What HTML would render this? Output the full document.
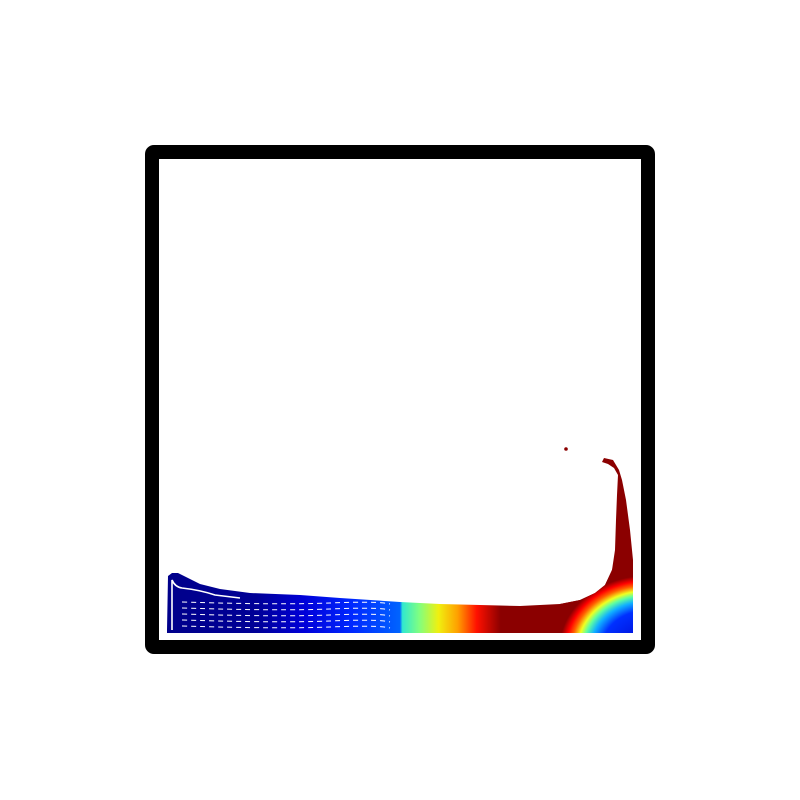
<!DOCTYPE html>
<html><head><meta charset="utf-8"><style>
html,body{margin:0;padding:0;background:#fff;}
svg{display:block;}
</style></head><body>
<svg id="c" width="800" height="800" viewBox="0 0 800 800">
<defs>
<linearGradient id="jetx" gradientUnits="userSpaceOnUse" x1="160" y1="0" x2="640" y2="0">
<stop offset="0" stop-color="#00008a"/>
<stop offset="0.2" stop-color="#000096"/>
<stop offset="0.3" stop-color="#0000d8"/>
<stop offset="0.4" stop-color="#0028ff"/>
<stop offset="0.5" stop-color="#0064ff"/>
<stop offset="0.505" stop-color="#30e8d0"/>
<stop offset="0.54" stop-color="#80ff80"/>
<stop offset="0.58" stop-color="#f0f010"/>
<stop offset="0.62" stop-color="#ffa000"/>
<stop offset="0.66" stop-color="#ff1000"/>
<stop offset="0.71" stop-color="#8b0000"/>
<stop offset="1" stop-color="#8b0000"/>
</linearGradient>
<radialGradient id="corner" gradientUnits="userSpaceOnUse" cx="648" cy="648" r="92" gradientTransform="translate(0 648) scale(1 0.82) translate(0 -648)">
<stop offset="0" stop-color="#0000c8"/>
<stop offset="0.5" stop-color="#0030ff"/>
<stop offset="0.62" stop-color="#10b0ff"/>
<stop offset="0.7" stop-color="#60ffa0"/>
<stop offset="0.76" stop-color="#f0ff20"/>
<stop offset="0.83" stop-color="#ff6000"/>
<stop offset="0.89" stop-color="#ff0000"/>
<stop offset="0.96" stop-color="#8b0000"/>
<stop offset="1" stop-color="#8b0000"/>
</radialGradient>
</defs>
<rect x="152" y="152" width="496" height="495" fill="none" stroke="#000" stroke-width="14" rx="2"/>
<g id="fluid"></g>
<circle cx="566" cy="449" r="1.8" fill="#8b0000"/>
</svg>
<script>
// fluid free-surface points (x, y) in screen px, left to right, then up the wall
const surfaceX = [167,168,172,178,190,200,220,250,300,340,400,440,480,520,560,580,595,605,612,615,616,617,618,614,608,602,604,613,619,622,626,630,633,633];
const surfaceY = [630,576,573,573,579,584,589,593,595,598,602,604,605,606,604,600,593,585,570,550,520,495,475,468,464,462,458,460,470,480,500,530,560,633];
const bottomY = 633;
const leftX = 167;

const g = document.getElementById('fluid');
const ns = 'http://www.w3.org/2000/svg';
let pts = surfaceX.map((x,i)=>x+','+surfaceY[i]);
pts.push(leftX+','+bottomY);
const body = document.createElementNS(ns,'polygon');
body.setAttribute('points', pts.join(' '));
body.setAttribute('fill','url(#jetx)');


g.appendChild(body);

const cornerPoly = document.createElementNS(ns,'polygon');
const cpts = [];
for (let i=0;i<surfaceX.length;i++){ if (surfaceX[i]>=540) cpts.push(surfaceX[i]+','+Math.max(surfaceY[i],560)); }
cpts.push('633,633','540,633');
cornerPoly.setAttribute('points', cpts.join(' '));
cornerPoly.setAttribute('fill','url(#corner)');


g.appendChild(cornerPoly);

// crust gap near left wall
const crust = document.createElementNS(ns,'path');
crust.setAttribute('d','M172 630 L172 580 Q175 587 182 588 Q200 590 215 595 L240 598');
crust.setAttribute('stroke','#fff');
crust.setAttribute('stroke-width','1.6');
crust.setAttribute('fill','none');


g.appendChild(crust);

// white particle gap streaks
const streakY = [602,608,614,620,626];
streakY.forEach((y,i)=>{
  const l = document.createElementNS(ns,'path');
  l.setAttribute('d','M182 '+y+' Q280 '+(y+3)+' 330 '+(y+1)+' T390 '+(y+2));
  l.setAttribute('stroke','#fff');
  l.setAttribute('stroke-width','1');
  l.setAttribute('stroke-dasharray','5 4');
  l.setAttribute('fill','none');
  
  
  g.appendChild(l);
});
</script>
</body></html>
